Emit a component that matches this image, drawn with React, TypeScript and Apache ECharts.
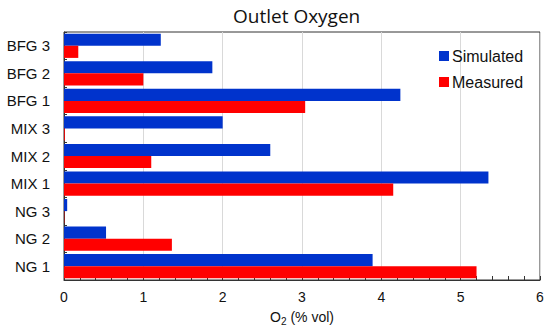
import React, { useEffect, useRef } from "react";
import * as echarts from "echarts";

const categories = ["NG 1", "NG 2", "NG 3", "MIX 1", "MIX 2", "MIX 3", "BFG 1", "BFG 2", "BFG 3"];
const simulated = [3.89, 0.53, 0.04, 5.35, 2.6, 2.0, 4.24, 1.87, 1.22];
const measured = [5.2, 1.36, 0.005, 4.15, 1.1, 0.01, 3.04, 1.0, 0.18];
const xTicks = [0, 1, 2, 3, 4, 5, 6];

export default function App() {
  const ref = useRef<HTMLDivElement>(null);
  useEffect(() => {
    document.body.style.margin = "0";
    const chart = echarts.init(ref.current!, null, { renderer: "svg" });
    chart.setOption({
      animation: false,
      backgroundColor: "#ffffff",
      title: {
        text: "Outlet Oxygen",
        left: 228,
        top: 1,
        textStyle: { fontFamily: "Open Sans", fontSize: 19, fontWeight: "normal", color: "#111" },
      },
      legend: {
        orient: "vertical",
        left: 434,
        top: 43,
        itemWidth: 10,
        itemHeight: 10,
        itemGap: 10,
        icon: "rect",
        data: ["Simulated", "Measured"],
        textStyle: { fontFamily: "Liberation Sans", fontSize: 16, color: "#111", padding: [0, 0, 0, -2] },
      },
      grid: {
        left: 64,
        right: 10,
        top: 32,
        bottom: 53,
        show: true,
        borderColor: "#333",
        borderWidth: 1,
      },
      xAxis: {
        type: "value",
        min: xTicks[0],
        max: xTicks[xTicks.length - 1],
        interval: 1,
        name: "{a|O}{b|2}{a| (% vol)}",
        nameLocation: "middle",
        nameGap: 28,
        nameTextStyle: {
          rich: {
            a: { fontFamily: "Liberation Sans", fontSize: 14, color: "#111" },
            b: { fontFamily: "Liberation Sans", fontSize: 10, color: "#111", padding: [8, 0, 0, 0] },
          },
        },
        axisLine: { show: true, lineStyle: { color: "#333" } },
        axisTick: { show: true, inside: true, length: 4, lineStyle: { color: "#333" } },
        minorTick: { show: true, splitNumber: 5, length: 4, lineStyle: { color: "#333" } },
        axisLabel: { fontFamily: "Liberation Sans", fontSize: 14, color: "#111", margin: 10 },
        splitLine: { show: true, lineStyle: { color: "#d9d9d9" } },
      },
      yAxis: {
        type: "category",
        data: categories,
        axisLine: { show: true, lineStyle: { color: "#333" } },
        axisTick: { show: true, inside: true, length: 3, lineStyle: { color: "#333" } },
        axisLabel: { fontFamily: "Liberation Sans", fontSize: 15, color: "#111", margin: 14 },
        splitLine: { show: false },
      },
      series: [
        {
          name: "Simulated",
          type: "bar",
          data: simulated,
          itemStyle: { color: "#0033cc" },
          barGap: "0%",
          barCategoryGap: "12%",
        },
        {
          name: "Measured",
          type: "bar",
          data: measured,
          itemStyle: { color: "#ff0000" },
          barGap: "0%",
          barCategoryGap: "12%",
        },
      ],
    });
    return () => chart.dispose();
  }, []);
  return <div ref={ref} style={{ width: 550, height: 333, position: "fixed", left: 0, top: 0 }} />;
}
